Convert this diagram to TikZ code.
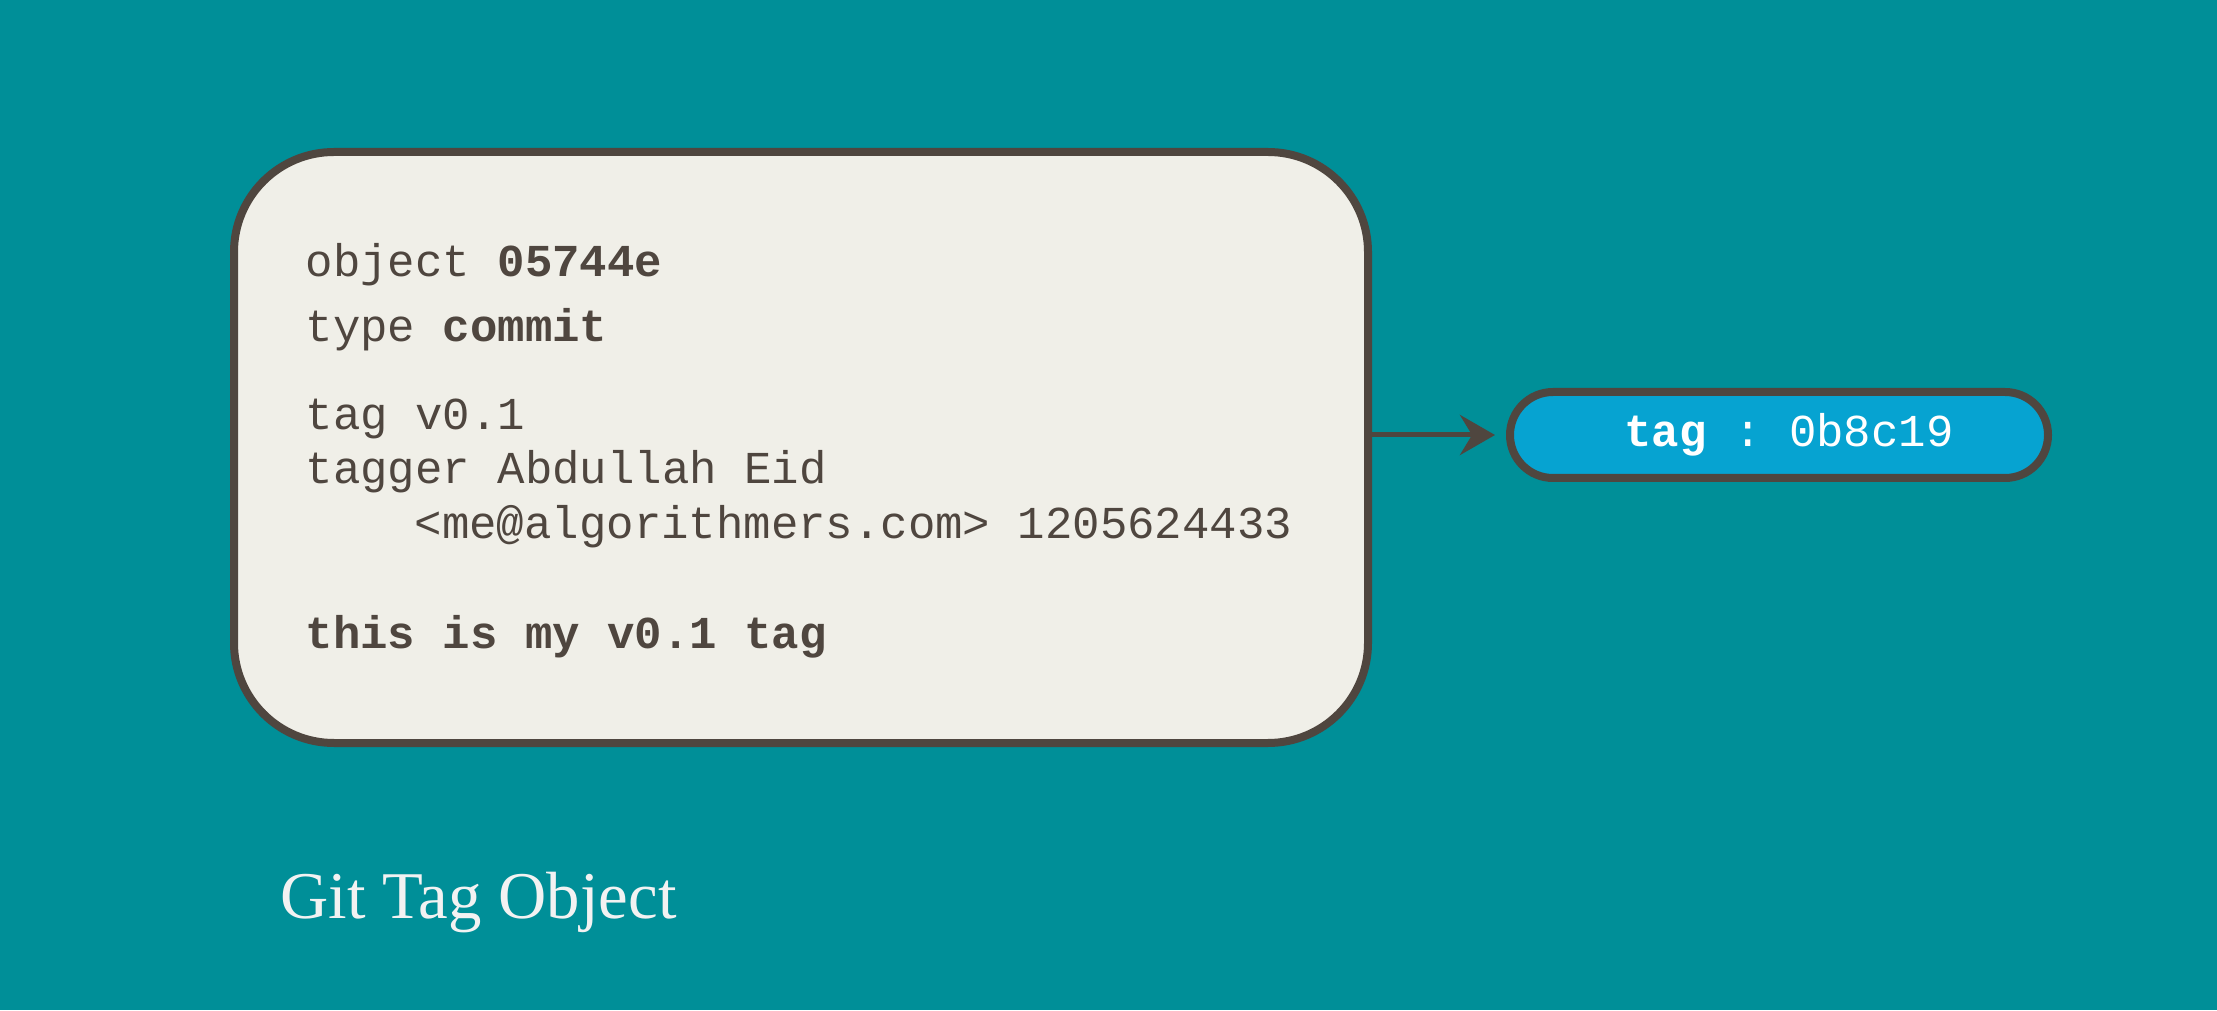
\documentclass[tikz,border=0pt]{standalone}
\usepackage{fontspec}
\setmainfont{Liberation Serif}
\setmonofont{Liberation Mono}
\usepackage{tikz}
\usetikzlibrary{arrows.meta}
\definecolor{gitbg}{HTML}{008F98}
\definecolor{boxfill}{HTML}{F0EFE8}
\definecolor{boxline}{HTML}{4F463F}
\definecolor{pillfill}{HTML}{06A3D1}
\definecolor{titlecol}{HTML}{F2F2F2}
\tikzset{
	objbox/.style={draw=boxline, fill=boxfill, line width=0.08cm, rounded corners=1cm,
		minimum width=11.34cm, minimum height=5.91cm},
	tagpill/.style={draw=boxline, fill=pillfill, line width=0.08cm, rounded corners=0.43cm,
		minimum width=5.38cm, minimum height=0.86cm, text=white, font=\fontsize{13pt}{15pt}\ttfamily},
	line/.style={anchor=base west, inner sep=0pt, text=boxline, font=\fontsize{13pt}{15pt}\ttfamily},
	every edge/.style={draw=boxline, line width=0.05cm}
}

\begin{document}
\begin{tikzpicture}
\fill[gitbg] (0,0) rectangle (22.17,10.10);
\useasboundingbox (0,0) rectangle (22.17,10.10);
\node (obj) [objbox] at (8.01,5.625) {};
\node (object) [line] at (3.05,7.33) {object \textbf{05744e}};
\node (type) [line] at (3.05,6.68) {type \textbf{commit}};
\node (tagname) [line] at (3.05,5.80) {tag v0.1};
\node (tagger) [line] at (3.05,5.26) {tagger Abdullah Eid};
\node (mail) [line] at (4.14,4.71) {<me@algorithmers.com> 1205624433};
\node (msg) [line] at (3.05,3.62) {\textbf{this is my v0.1 tag}};
\node (tag) [tagpill] at (17.79,5.75) {\hspace*{0.2cm}\textbf{tag} : 0b8c19};
\draw (obj.east |- tag.west) edge[-{Stealth[length=0.35cm, width=0.4cm, inset=0.12cm]}, shorten >=0.11cm] (tag.west);
\node (title) [anchor=base west, inner sep=0pt, text=titlecol, font=\fontsize{19pt}{22pt}\selectfont] at (2.80,0.92) {Git Tag Object};
\end{tikzpicture}
\end{document}
